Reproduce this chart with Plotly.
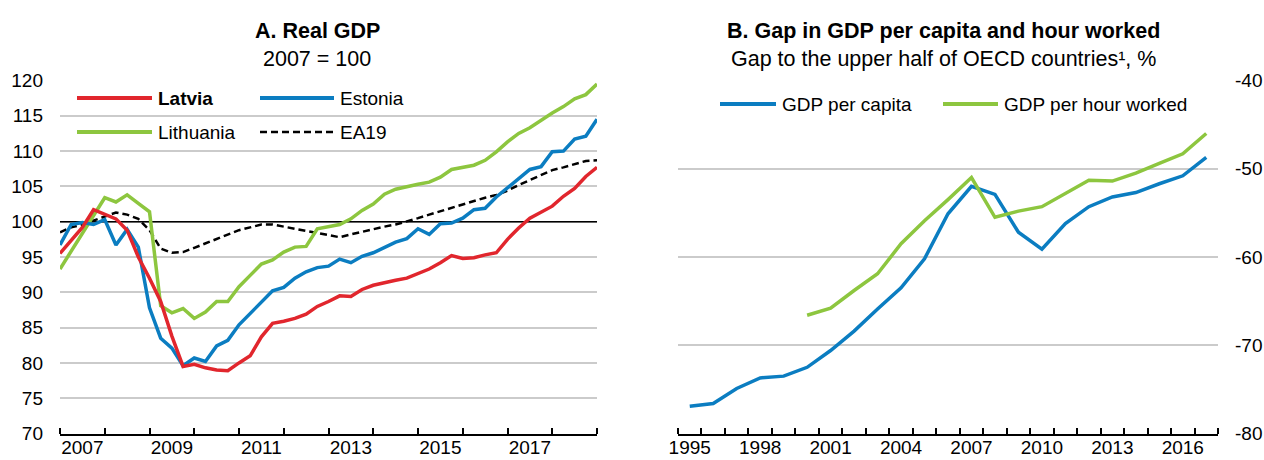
import plotly.graph_objects as go

# === Dados === #
# Painel A: PIB real trimestral, 2007 = 100 (2007T1 .. 2019T1)
quarters = [f"{y}Q{q}" for y in range(2007, 2020) for q in range(1, 5)][:49]

latvia = [95.5, 97.3, 99.2, 101.7, 101.1, 100.4, 98.8, 95.0, 92.0, 88.7,
          83.8, 79.5, 79.8, 79.3, 79.0, 78.9, 80.0, 81.0, 83.7, 85.6,
          85.9, 86.3, 86.9, 88.0, 88.7, 89.5, 89.4, 90.4, 91.0, 91.4,
          91.7, 92.0, 92.6, 93.3, 94.2, 95.2, 94.8, 94.9, 95.3, 95.6,
          97.5, 99.1, 100.5, 101.4, 102.2, 103.6, 104.7, 106.4, 107.7]
estonia = [96.7, 99.6, 99.9, 99.6, 100.3, 96.7, 98.9, 96.4, 87.8, 83.5,
           82.1, 79.6, 80.7, 80.2, 82.4, 83.2, 85.4, 87.0, 88.5, 90.2,
           90.7, 92.0, 92.9, 93.5, 93.7, 94.7, 94.2, 95.1, 95.6, 96.4,
           97.1, 97.6, 99.0, 98.2, 99.7, 99.8, 100.5, 101.7, 101.9, 103.5,
           104.8, 106.2, 107.4, 107.8, 109.9, 110.0, 111.7, 112.1, 114.5]
lithuania = [93.3, 95.8, 98.4, 101.0, 103.4, 102.8, 103.8, 102.6, 101.4, 88.1,
             87.1, 87.7, 86.3, 87.2, 88.7, 88.7, 90.8, 92.4, 94.0, 94.6,
             95.7, 96.4, 96.5, 99.0, 99.3, 99.6, 100.4, 101.6, 102.5, 103.9,
             104.6, 105.0, 105.3, 105.6, 106.3, 107.4, 107.7, 108.0, 108.7, 109.9,
             111.3, 112.5, 113.3, 114.4, 115.4, 116.3, 117.4, 118.0, 119.5]
ea19 = [98.5, 99.2, 99.6, 100.2, 100.7, 101.3, 101.0, 100.4, 98.8, 96.2,
        95.6, 95.7, 96.3, 96.9, 97.5, 98.1, 98.8, 99.2, 99.6, 99.6,
        99.3, 99.0, 98.8, 98.5, 98.2, 97.8, 98.2, 98.6, 98.9, 99.3,
        99.6, 100.0, 100.5, 101.0, 101.5, 102.0, 102.5, 103.0, 103.4, 103.8,
        104.4, 105.2, 105.9, 106.6, 107.3, 107.7, 108.2, 108.6, 108.7]
base_index = 100
year_labels_a = ["2007", "2009", "2011", "2013", "2015", "2017"]

# Painel B: hiato em relação à metade superior da OCDE, %
years_b = list(range(1995, 2018))
gdp_capita = [-76.9, -76.6, -74.9, -73.7, -73.5, -72.5, -70.6, -68.4, -65.9, -63.5,
              -60.2, -55.1, -52.0, -52.9, -57.2, -59.1, -56.2, -54.3, -53.2, -52.7,
              -51.7, -50.8, -48.7]
gdp_hour = [None, None, None, None, None, -66.6, -65.8, -63.8, -61.9, -58.5,
            -55.9, -53.5, -51.0, -55.5, -54.8, -54.3, -52.8, -51.3, -51.4, -50.5,
            -49.4, -48.3, -46.0]
year_labels_b = ["1995", "1998", "2001", "2004", "2007", "2010", "2013", "2016"]
gap_ticks = [-80, -70, -60, -50, -40]

# === Estilo === #
W, H = 1264, 460
FONT = "Liberation Sans, Arial, sans-serif"
RED = "#E1262D"
BLUE = "#0B7DC1"
GREEN = "#8DC63F"
GRID = "#CBCBCB"

def px(x):
    return x / W

def py(y):
    return 1 - y / H

xq = [int(q[:4]) + (int(q[-1]) - 1) / 4 for q in quarters]

fig = go.Figure()

# linha de referência 2007 = 100 (por baixo das séries)
fig.add_trace(go.Scatter(
    x=[xq[0], xq[-1]], y=[base_index, base_index], mode="lines",
    line=dict(color="black", width=1.5), showlegend=False, hoverinfo="skip",
    xaxis="x", yaxis="y",
))

series_a = [("EA19", ea19, "black", "7px,4px", 2.5),
            ("Lithuania", lithuania, GREEN, None, 3.5),
            ("Estonia", estonia, BLUE, None, 3.5),
            ("Latvia", latvia, RED, None, 3.5)]
for name, vals, col, dash, w in series_a:
    fig.add_trace(go.Scatter(
        x=xq, y=vals, mode="lines", name=name,
        line=dict(color=col, width=w, dash=dash),
        showlegend=False, xaxis="x", yaxis="y",
    ))

fig.add_trace(go.Scatter(
    x=years_b, y=gdp_capita, mode="lines", name="GDP per capita",
    line=dict(color=BLUE, width=3.5), showlegend=False, xaxis="x2", yaxis="y2",
))
fig.add_trace(go.Scatter(
    x=years_b, y=gdp_hour, mode="lines", name="GDP per hour worked",
    line=dict(color=GREEN, width=3.5), showlegend=False, xaxis="x2", yaxis="y2",
))

# legendas desenhadas à mão (traço comprido como no original)
shapes = []
annotations = []
def legend_item(x0, x1, y, text, color, dash=None, width=4):
    shapes.append(dict(type="line", xref="paper", yref="paper",
                       x0=px(x0), x1=px(x1), y0=py(y), y1=py(y),
                       line=dict(color=color, width=width, dash=dash)))
    annotations.append(dict(xref="paper", yref="paper", x=px(x1 + 4), y=py(y),
                            xanchor="left", yanchor="middle", text=text,
                            showarrow=False, font=dict(size=19)))

legend_item(77, 152, 98, "<b>Latvia</b>", RED)
legend_item(260, 334, 98, "Estonia", BLUE)
legend_item(77, 152, 132, "Lithuania", GREEN)
legend_item(260, 334, 132, "EA19", "black", dash="7px,4px", width=2.5)
legend_item(720, 776, 104, "GDP per capita", BLUE)
legend_item(943, 998, 104, "GDP per hour worked", GREEN)

# títulos dos painéis
for xc, t1, t2 in [(317, "<b>A. Real GDP</b>", "2007 = 100"),
                   (943, "<b>B. Gap in GDP per capita and hour worked</b>",
                    "Gap to the upper half of OECD countries¹, %")]:
    annotations.append(dict(xref="paper", yref="paper", x=px(xc), y=py(31),
                            xanchor="center", yanchor="middle", text=t1,
                            showarrow=False, font=dict(size=21.5)))
    annotations.append(dict(xref="paper", yref="paper", x=px(xc), y=py(59),
                            xanchor="center", yanchor="middle", text=t2,
                            showarrow=False, font=dict(size=21.5)))

ydom = [py(433.5), py(80.5)]

fig.update_layout(
    width=W, height=H,
    margin=dict(l=0, r=0, t=0, b=0, autoexpand=False),
    plot_bgcolor="white", paper_bgcolor="white",
    font=dict(family=FONT, size=19, color="black"),
    showlegend=False,
    shapes=shapes,
    annotations=annotations,
    xaxis=dict(
        domain=[px(60), px(597)], range=[2007, 2019], anchor="y",
        tickmode="array", tickvals=[int(t) + 0.5 for t in year_labels_a],
        ticktext=year_labels_a, ticks="", showgrid=False, zeroline=False,
        showline=True, linecolor="black", linewidth=1.5, automargin=False,
        ticklabelstandoff=-4,
        minor=dict(tick0=2007, dtick=1, ticks="inside", ticklen=6,
                   tickwidth=1.5, tickcolor="black", showgrid=False),
    ),
    yaxis=dict(
        domain=ydom, range=[70, 120], anchor="x", automargin=False,
        tick0=70, dtick=5, ticks="", showgrid=True, gridcolor=GRID, gridwidth=1.5,
        zeroline=False, showline=False, ticklabelstandoff=16,
    ),
    xaxis2=dict(
        domain=[px(678), px(1218)], range=[1994.5, 2017.5], anchor="y2",
        tickmode="array", tickvals=[int(t) for t in year_labels_b],
        ticktext=year_labels_b, ticks="", showgrid=False, zeroline=False,
        showline=True, linecolor="black", linewidth=1.5, automargin=False,
        ticklabelstandoff=-4,
        minor=dict(tick0=1994.5, dtick=1, ticks="inside", ticklen=6,
                   tickwidth=1.5, tickcolor="black", showgrid=False),
    ),
    yaxis2=dict(
        domain=ydom, range=[-80, -40], anchor="x2", side="right", automargin=False,
        tickmode="array", tickvals=gap_ticks, ticktext=[f"-{abs(v)}" for v in gap_ticks],
        ticks="", showgrid=True, gridcolor=GRID, gridwidth=1.5,
        zeroline=False, showline=False, ticklabelstandoff=16,
    ),
)

# sem a margem padrão do <body>, a figura ocupa a janela inteira
fig.write_html("out.html", config={"displayModeBar": False},
               post_script="document.body.style.margin='0';")
